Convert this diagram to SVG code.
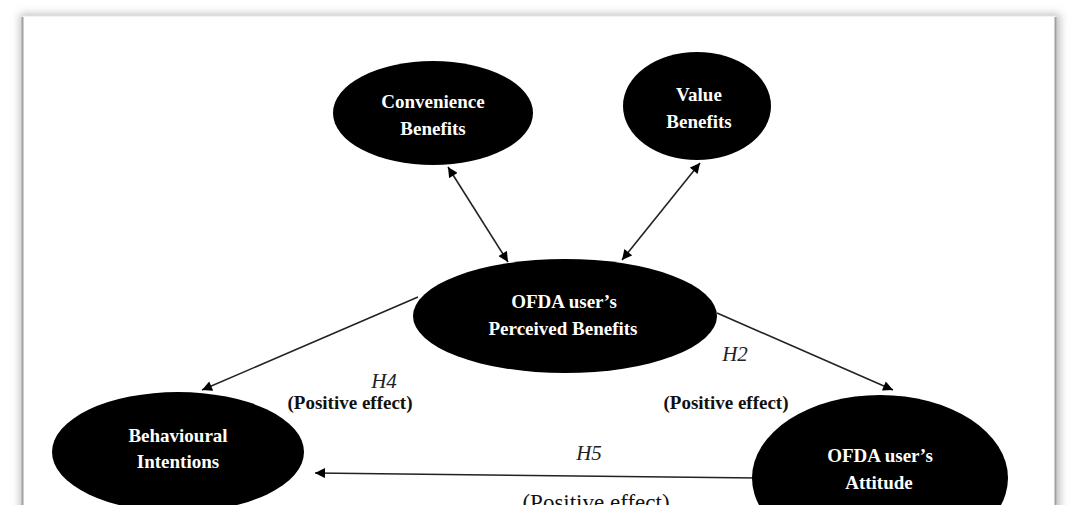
<svg xmlns="http://www.w3.org/2000/svg" width="1078" height="505" viewBox="0 0 1078 505">
  <defs>
    <style>
      .node { fill: #000; }
      .nt { font-family: "Liberation Serif", "Times New Roman", serif; font-weight: bold; font-size: 19px; fill: #fff; text-anchor: middle; }
      .h { font-family: "Liberation Serif", "Times New Roman", serif; font-style: italic; font-size: 21px; fill: #222; text-anchor: middle; }
      .pe { font-family: "Liberation Serif", "Times New Roman", serif; font-weight: bold; font-size: 19px; fill: #111; text-anchor: middle; }
      .pr { font-family: "Liberation Serif", "Times New Roman", serif; font-size: 23px; fill: #111; text-anchor: middle; }
      .conn { stroke: #222; stroke-width: 1.6; fill: none; }
    </style>
    <marker id="ah" viewBox="0 0 10 10" refX="10" refY="5" markerWidth="11" markerHeight="10" markerUnits="userSpaceOnUse" orient="auto-start-reverse">
      <path d="M0,0 L10,5 L0,10 Z" fill="#000"/>
    </marker>
    <filter id="sh" x="-5%" y="-5%" width="110%" height="110%">
      <feGaussianBlur stdDeviation="4"/>
    </filter>
  </defs>
  <rect x="0" y="0" width="1078" height="505" fill="#fff"/>
  <g id="frame">
    <rect x="20" y="14" width="1040" height="520" fill="#bdbdbd" filter="url(#sh)"/>
    <rect x="22" y="16" width="1034" height="520" fill="#fff" stroke="#e6e6e6" stroke-width="1"/>
    <line x1="22.5" y1="17" x2="22.5" y2="505" stroke="#a0a0a0" stroke-width="2"/>
    <line x1="1055.5" y1="17" x2="1055.5" y2="505" stroke="#a0a0a0" stroke-width="2"/>
  </g>
  <g id="connectors">
    <line class="conn" x1="448" y1="167" x2="508" y2="262" marker-start="url(#ah)" marker-end="url(#ah)"/>
    <line class="conn" x1="700" y1="163" x2="622" y2="260" marker-start="url(#ah)" marker-end="url(#ah)"/>
    <line class="conn" x1="418" y1="297" x2="202" y2="390" marker-end="url(#ah)"/>
    <line class="conn" x1="717" y1="313" x2="893" y2="390" marker-end="url(#ah)"/>
    <line class="conn" x1="758" y1="478" x2="315" y2="473" marker-end="url(#ah)"/>
  </g>
  <g id="labels">
    <text class="h" x="384" y="388">H4</text>
    <text class="pe" x="350" y="409">(Positive effect)</text>
    <text class="h" x="735" y="361">H2</text>
    <text class="pe" x="726" y="409">(Positive effect)</text>
    <text class="h" x="589" y="460">H5</text>
    <text class="pr" x="596" y="510">(Positive effect)</text>
  </g>
  <g id="convenience">
    <ellipse class="node" cx="433" cy="113" rx="100" ry="52"/>
    <text class="nt" x="433" y="108">Convenience</text>
    <text class="nt" x="433" y="135">Benefits</text>
  </g>
  <g id="value">
    <ellipse class="node" cx="697" cy="106" rx="74" ry="54"/>
    <text class="nt" x="699" y="101">Value</text>
    <text class="nt" x="699" y="128">Benefits</text>
  </g>
  <g id="perceived">
    <ellipse class="node" cx="565" cy="316" rx="152" ry="57"/>
    <text class="nt" x="564" y="308">OFDA user’s</text>
    <text class="nt" x="563" y="335">Perceived Benefits</text>
  </g>
  <g id="behavioural">
    <ellipse class="node" cx="178" cy="452" rx="126" ry="60"/>
    <text class="nt" x="178" y="442">Behavioural</text>
    <text class="nt" x="178" y="468">Intentions</text>
  </g>
  <g id="attitude">
    <ellipse class="node" cx="880" cy="478" rx="128" ry="83"/>
    <text class="nt" x="880" y="462">OFDA user’s</text>
    <text class="nt" x="879" y="489">Attitude</text>
  </g>
</svg>
